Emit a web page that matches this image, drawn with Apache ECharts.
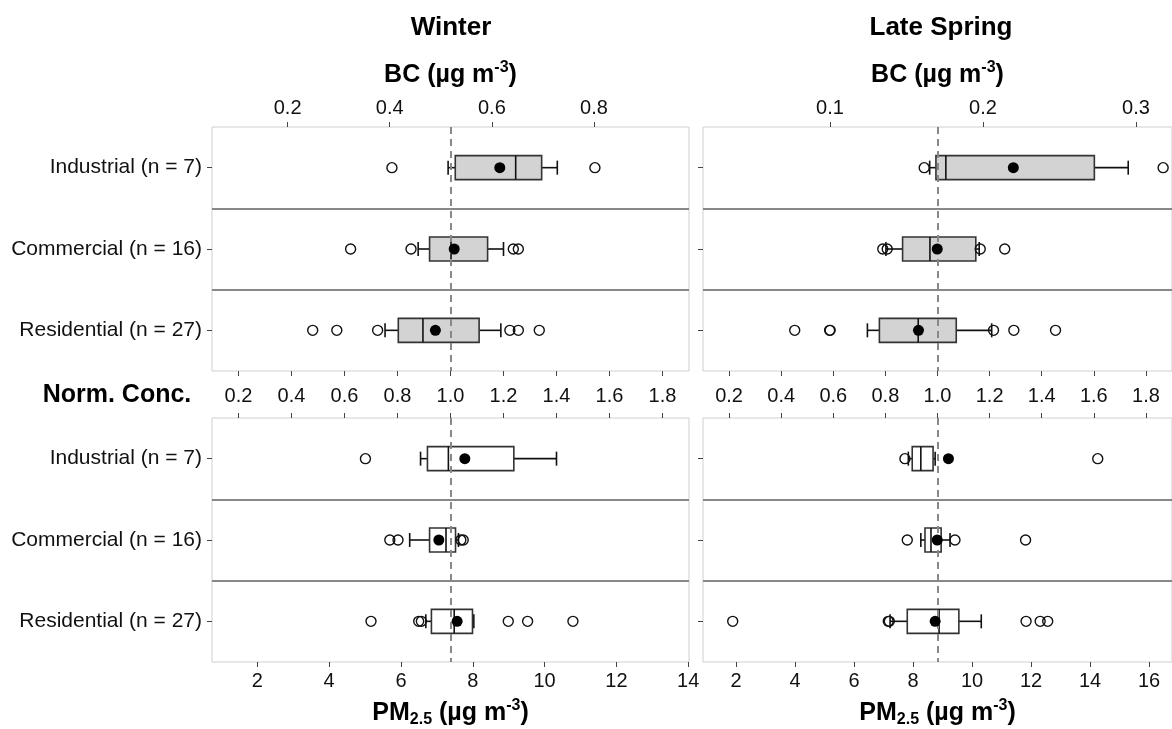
<!DOCTYPE html>
<html><head><meta charset="utf-8">
<script src="https://cdn.jsdelivr.net/npm/echarts@6/dist/echarts.min.js"></script>
<style>html,body{margin:0;padding:0;background:#fff}#c{width:1172px;height:729px}</style>
</head><body><div id="c"></div>
<script>
// ---------- data ----------
const categories = ['Industrial (n = 7)', 'Commercial (n = 16)', 'Residential (n = 27)'];
const normTicks = [0.2, 0.4, 0.6, 0.8, 1.0, 1.2, 1.4, 1.6, 1.8];
const winterBCTicks = [0.2, 0.4, 0.6, 0.8];
const springBCTicks = [0.1, 0.2, 0.3];
const winterPMTicks = [2, 4, 6, 8, 10, 12, 14];
const springPMTicks = [2, 4, 6, 8, 10, 12, 14, 16];
const normMin = 0.1, normMax = 1.9;
const winterBCRef = 0.519, springBCRef = 0.1703, winterPMRef = 7.38, springPMRef = 8.83;

// normalized concentration: [low whisker, Q1, median, Q3, high whisker] per category
const winterBCBox = [[0.991, 1.018, 1.246, 1.344, 1.403], [0.878, 0.921, 1.002, 1.140, 1.200], [0.753, 0.803, 0.896, 1.108, 1.190]];
const winterBCMean = [1.186, 1.014, 0.943];
const winterBCOut = [[0.779, 1.545], [0.623, 0.851, 1.237, 1.256], [0.480, 0.571, 0.725, 1.224, 1.256, 1.335]];

const springBCBox = [[0.970, 0.994, 1.032, 1.602, 1.732], [0.802, 0.866, 0.971, 1.147, 1.160], [0.731, 0.777, 0.926, 1.072, 1.208]];
const springBCMean = [1.291, 0.999, 0.927];
const springBCOut = [[0.949, 1.866], [0.790, 0.807, 1.164, 1.258], [0.452, 0.586, 0.588, 1.215, 1.293, 1.453]];

const winterPMBox = [[0.887, 0.913, 0.992, 1.239, 1.400], [0.846, 0.921, 0.983, 1.019, 1.030], [0.907, 0.928, 1.014, 1.083, 1.088]];
const winterPMMean = [1.054, 0.956, 1.025];
const winterPMOut = [[0.679], [0.771, 0.802, 1.039, 1.048], [0.700, 0.880, 0.890, 1.218, 1.291, 1.462]];

const springPMBox = [[0.888, 0.903, 0.936, 0.983, 0.991], [0.936, 0.952, 0.975, 1.014, 1.048], [0.818, 0.884, 1.006, 1.082, 1.168]];
const springPMMean = [1.042, 0.999, 0.991];
const springPMOut = [[0.875, 1.615], [0.884, 1.067, 1.338], [0.214, 0.811, 0.815, 1.340, 1.394, 1.423]];

// ---------- chart ----------
const FONT = '"Liberation Sans", Arial, Helvetica, sans-serif';
const chart = echarts.init(document.getElementById('c'), null, {renderer: 'canvas'});

const grids = [
  {left: 212, top: 127, width: 477, height: 244},
  {left: 703, top: 127, width: 477, height: 244},
  {left: 212, top: 418, width: 477, height: 245},
  {left: 703, top: 418, width: 477, height: 245}
];
const panels = [
  {box: winterBCBox, mean: winterBCMean, out: winterBCOut, fill: '#d3d3d3'},
  {box: springBCBox, mean: springBCMean, out: springBCOut, fill: '#d3d3d3'},
  {box: winterPMBox, mean: winterPMMean, out: winterPMOut, fill: '#ffffff'},
  {box: springPMBox, mean: springPMMean, out: springPMOut, fill: '#ffffff'}
];

const tickStyle = {show: true, length: 5, inside: false, lineStyle: {color: '#444', width: 1}};
const labelStyle = {color: '#111', fontSize: 20, fontFamily: FONT};
const nameRich = {
  t: {fontSize: 25, fontWeight: 'bold', fontFamily: FONT, color: '#000', lineHeight: 30},
  s: {fontSize: 16, fontWeight: 'bold', fontFamily: FONT, color: '#000', verticalAlign: 'top', lineHeight: 30},
  b: {fontSize: 16, fontWeight: 'bold', fontFamily: FONT, color: '#000', verticalAlign: 'bottom', lineHeight: 30}
};

function normAxis(gridIndex, position, showLabel) {
  return {
    type: 'value', gridIndex, position, min: normMin, max: normMax,
    axisLine: {show: false}, splitLine: {show: false},
    axisTick: Object.assign({customValues: normTicks}, tickStyle),
    axisLabel: Object.assign({show: showLabel, customValues: normTicks, margin: 12,
      formatter: v => v.toFixed(1)}, labelStyle)
  };
}
function unitAxis(gridIndex, position, ref, ticks, name, digits, gap) {
  return {
    type: 'value', gridIndex, position, min: normMin * ref, max: normMax * ref,
    axisLine: {show: false}, splitLine: {show: false},
    axisTick: Object.assign({customValues: ticks}, tickStyle),
    axisLabel: Object.assign({customValues: ticks, margin: 9,
      formatter: v => v.toFixed(digits)}, labelStyle),
    name, nameLocation: 'middle', nameGap: gap,
    nameTextStyle: {rich: nameRich}
  };
}

const xAxis = [
  normAxis(0, 'bottom', false),
  unitAxis(0, 'top', winterBCRef, winterBCTicks, '{t|BC (µg m}{s|-3}{t|)}', 1, 37),
  normAxis(1, 'bottom', false),
  unitAxis(1, 'top', springBCRef, springBCTicks, '{t|BC (µg m}{s|-3}{t|)}', 1, 37),
  normAxis(2, 'top', true),
  unitAxis(2, 'bottom', winterPMRef, winterPMTicks, '{t|PM}{b|2.5}{t| (µg m}{s|-3}{t|)}', 0, 36),
  normAxis(3, 'top', true),
  unitAxis(3, 'bottom', springPMRef, springPMTicks, '{t|PM}{b|2.5}{t| (µg m}{s|-3}{t|)}', 0, 36)
];
const normAxisIdx = [0, 2, 4, 6];

const yAxis = grids.map((g, i) => ({
  type: 'category', gridIndex: i, data: categories, inverse: true,
  axisLine: {show: false},
  axisTick: Object.assign({alignWithLabel: true}, tickStyle),
  axisLabel: Object.assign({show: i % 2 === 0, margin: 10}, labelStyle, {fontSize: 21}),
  splitLine: {show: true, showMinLine: false, showMaxLine: false, lineStyle: {color: '#888', width: 2}}
}));

function makeRender(fill) {
  return function (params, api) {
    const cat = api.value(0);
    const lo = api.coord([api.value(1), cat]);
    const q1 = api.coord([api.value(2), cat]);
    const md = api.coord([api.value(3), cat]);
    const q3 = api.coord([api.value(4), cat]);
    const hi = api.coord([api.value(5), cat]);
    const y = q1[1], h = 12, c = 7;
    const ls = {stroke: '#111', lineWidth: 1.6, fill: null};
    return {type: 'group', children: [
      {type: 'line', shape: {x1: lo[0], y1: y, x2: q1[0], y2: y}, style: ls},
      {type: 'line', shape: {x1: q3[0], y1: y, x2: hi[0], y2: y}, style: ls},
      {type: 'line', shape: {x1: lo[0], y1: y - c, x2: lo[0], y2: y + c}, style: ls},
      {type: 'line', shape: {x1: hi[0], y1: y - c, x2: hi[0], y2: y + c}, style: ls},
      {type: 'rect', shape: {x: q1[0], y: y - h, width: q3[0] - q1[0], height: 2 * h},
        style: {fill: fill, stroke: '#333', lineWidth: 1.6}},
      {type: 'line', shape: {x1: md[0], y1: y - h, x2: md[0], y2: y + h}, style: ls}
    ]};
  };
}

const series = [];
panels.forEach((p, i) => {
  const boxData = p.box.map((b, k) => [k].concat(b));
  series.push({
    type: 'custom', xAxisIndex: normAxisIdx[i], yAxisIndex: i,
    renderItem: makeRender(p.fill), data: boxData,
    encode: {x: [1, 2, 3, 4, 5], y: 0}, z: 2
  });
  const outData = [];
  p.out.forEach((arr, k) => arr.forEach(v => outData.push([v, k])));
  series.push({
    type: 'scatter', xAxisIndex: normAxisIdx[i], yAxisIndex: i, data: outData,
    symbol: 'circle', symbolSize: 10, z: 4,
    itemStyle: {color: 'rgba(255,255,255,0)', borderColor: '#111', borderWidth: 1.4, opacity: 1},
    markLine: {silent: true, symbol: 'none', label: {show: false}, z: 3,
      lineStyle: {color: '#888', type: [7, 5], width: 2, opacity: 1},
      data: [{xAxis: 1}]}
  });
  series.push({
    type: 'scatter', xAxisIndex: normAxisIdx[i], yAxisIndex: i,
    data: p.mean.map((v, k) => [v, k]),
    symbol: 'circle', symbolSize: 11, z: 5,
    itemStyle: {color: '#000', opacity: 1}
  });
});

const titleFont = 'bold 26px ' + FONT;
chart.setOption({
  animation: false,
  backgroundColor: '#fff',
  grid: grids.map(g => Object.assign({show: true, borderColor: '#cfcfcf', borderWidth: 1, containLabel: false}, g)),
  xAxis, yAxis, series,
  graphic: [
    {type: 'text', x: 451, y: 28, style: {text: 'Winter', font: titleFont, fill: '#000', align: 'center', verticalAlign: 'middle'}},
    {type: 'text', x: 941, y: 28, style: {text: 'Late Spring', font: titleFont, fill: '#000', align: 'center', verticalAlign: 'middle'}},
    {type: 'text', x: 117, y: 395, style: {text: 'Norm. Conc.', font: 'bold 25px ' + FONT, fill: '#000', align: 'center', verticalAlign: 'middle'}}
  ]
});
</script></body></html>
